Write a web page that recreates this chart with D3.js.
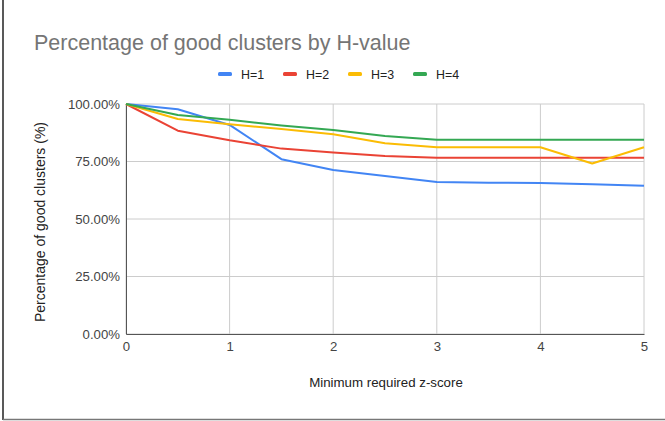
<!DOCTYPE html>
<html>
<head>
<meta charset="utf-8">
<script src="https://cdn.jsdelivr.net/npm/d3@7"></script>
<style>
  body { margin: 0; background: #fff; }
  svg { display: block; font-family: "Liberation Sans", Arial, sans-serif; }
</style>
</head>
<body>
<svg id="chart" width="665" height="421"></svg>
<script>
var zScores = [0, 0.5, 1, 1.5, 2, 2.5, 3, 3.5, 4, 4.5, 5];
var h1 = [100, 97.7, 90.9, 76.0, 71.3, 68.7, 66.1, 65.8, 65.7, 65.1, 64.5];
var h2 = [100, 88.4, 84.2, 80.6, 78.9, 77.4, 76.6, 76.6, 76.6, 76.6, 76.6];
var h3 = [100, 93.5, 91.2, 89.1, 86.8, 82.9, 81.2, 81.2, 81.2, 74.1, 81.2];
var h4 = [100, 95.2, 93.1, 90.7, 88.7, 86.1, 84.5, 84.5, 84.5, 84.5, 84.5];
var seriesNames = ['H=1', 'H=2', 'H=3', 'H=4'];
var seriesColors = ['#4285f4', '#ea4335', '#fbbc04', '#34a853'];
var yTicks = [0, 25, 50, 75, 100];
var xTicks = [0, 1, 2, 3, 4, 5];

var series = [h1, h2, h3, h4].map(function(vals, i) {
  return { name: seriesNames[i], color: seriesColors[i],
           values: vals.map(function(v, j) { return { x: zScores[j], y: v }; }) };
});

var svg = d3.select('#chart');

// frame (left and bottom edges of the screenshot)
svg.append('line').attr('x1', 3).attr('x2', 3).attr('y1', 0).attr('y2', 420)
  .attr('stroke', '#222').attr('stroke-width', 1.5);
svg.append('line').attr('x1', 3).attr('x2', 665).attr('y1', 419.5).attr('y2', 419.5)
  .attr('stroke', '#777').attr('stroke-width', 1.5);

var x = d3.scaleLinear().domain([0, 5]).range([126, 644]);
var y = d3.scaleLinear().domain([0, 100]).range([334, 104]);

svg.append('text')
  .attr('x', 34).attr('y', 50)
  .style('font-size', '21.5px').style('fill', '#757575')
  .text('Percentage of good clusters by H-value');

// legend
var legendX = [218, 283, 348, 413];
var leg = svg.append('g').selectAll('g').data(series).enter().append('g')
  .attr('transform', function(d, i) { return 'translate(' + legendX[i] + ',74)'; });
leg.append('rect').attr('x', 0).attr('y', -2).attr('width', 14).attr('height', 4).attr('rx', 1.5)
  .attr('fill', function(d) { return d.color; });
leg.append('text').attr('x', 23).attr('y', 4.5)
  .style('font-size', '12.4px').style('fill', '#222')
  .text(function(d) { return d.name; });

// grid
svg.append('g').selectAll('line').data(yTicks).enter().append('line')
  .attr('x1', 126).attr('x2', 644)
  .attr('y1', function(d) { return y(d); }).attr('y2', function(d) { return y(d); })
  .attr('stroke', '#cccccc');
svg.append('g').selectAll('line').data(xTicks).enter().append('line')
  .attr('y1', 104).attr('y2', 334)
  .attr('x1', function(d) { return x(d); }).attr('x2', function(d) { return x(d); })
  .attr('stroke', '#cccccc');

// y axis
var yAxis = svg.append('g').attr('transform', 'translate(126,0)')
  .call(d3.axisLeft(y).tickValues(yTicks).tickSize(0).tickPadding(6)
    .tickFormat(function(d) { return d.toFixed(2) + '%'; }));
yAxis.select('.domain').attr('stroke', '#555');
yAxis.selectAll('text').style('font-size', '13.2px').style('fill', '#444')
  .style('font-family', '"Liberation Sans", Arial, sans-serif');

// x axis
var xAxis = svg.append('g').attr('transform', 'translate(0,334)')
  .call(d3.axisBottom(x).tickValues(xTicks).tickSize(0).tickPadding(8).tickFormat(d3.format('d')));
xAxis.select('.domain').attr('stroke', '#555');
xAxis.selectAll('text').style('font-size', '13.2px').style('fill', '#444')
  .style('font-family', '"Liberation Sans", Arial, sans-serif');

svg.append('text')
  .attr('x', 386).attr('y', 387).attr('text-anchor', 'middle')
  .style('font-size', '13.3px').style('fill', '#222')
  .text('Minimum required z-score');

svg.append('text')
  .attr('transform', 'translate(45,222) rotate(-90)').attr('text-anchor', 'middle')
  .style('font-size', '14px').style('fill', '#222')
  .text('Percentage of good clusters (%)');

// lines
var line = d3.line().x(function(d) { return x(d.x); }).y(function(d) { return y(d.y); });
svg.append('g').selectAll('path').data(series).enter().append('path')
  .attr('d', function(d) { return line(d.values); })
  .attr('fill', 'none')
  .attr('stroke', function(d) { return d.color; })
  .attr('stroke-width', 2)
  .attr('stroke-linejoin', 'round');
</script>
</body>
</html>
